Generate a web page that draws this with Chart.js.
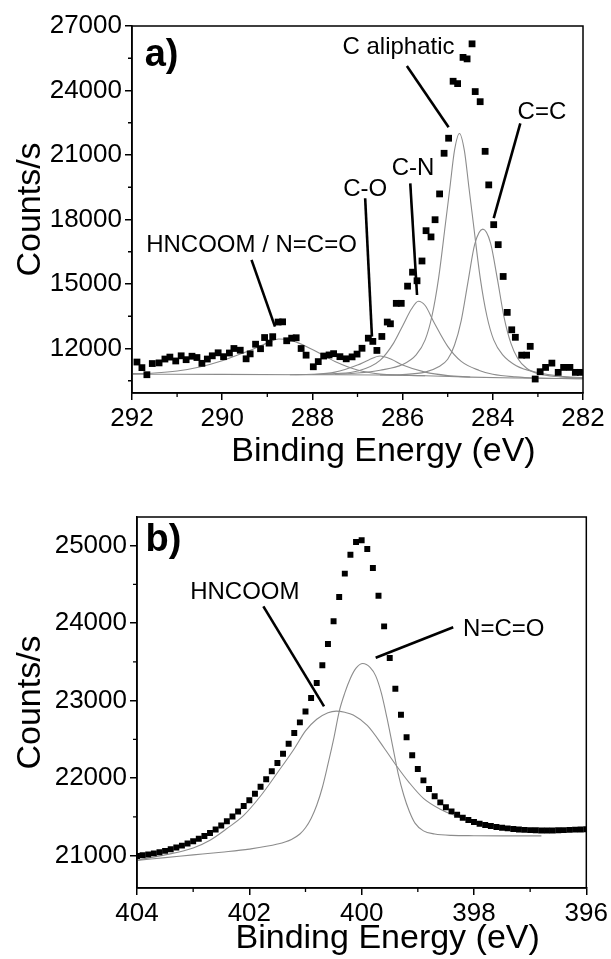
<!DOCTYPE html>
<html><head><meta charset="utf-8">
<script src="https://cdn.jsdelivr.net/npm/chart.js@4.4.0/dist/chart.umd.min.js"></script>
<style>
html,body{margin:0;padding:0;background:#fff;width:611px;height:959px;overflow:hidden}
canvas{position:absolute;left:0}
#ca{top:0}
#cb{top:478px}
</style></head><body>
<canvas id="ca" width="611" height="478"></canvas>
<canvas id="cb" width="611" height="481"></canvas>
<script>
const FONT = "'Liberation Sans', Arial, Helvetica, sans-serif";

// ---------- Panel a: C 1s ----------
const energyA = [291.89,291.78,291.67,291.55,291.40,291.27,291.16,291.03,290.91,290.80,290.67,290.56,290.45,290.33,290.22,290.09,289.97,289.84,289.74,289.60,289.47,289.38,289.26,289.15,289.06,288.96,288.88,288.76,288.66,288.57,288.46,288.36,288.25,288.14,287.98,287.87,287.75,287.63,287.53,287.39,287.25,287.12,287.01,286.90,286.76,286.66,286.57,286.46,286.34,286.27,286.14,286.03,285.89,285.78,285.68,285.57,285.48,285.37,285.28,285.18,285.08,284.98,284.88,284.78,284.66,284.57,284.46,284.39,284.28,284.17,284.09,283.98,283.88,283.77,283.68,283.58,283.50,283.36,283.25,283.17,283.06,282.95,282.83,282.69,282.55,282.43,282.29,282.17,282.06];
const countsA = [11370,11110,10780,11300,11330,11510,11600,11420,11660,11480,11640,11580,11310,11510,11660,11800,11620,11790,12000,11920,11520,11750,12200,11990,12510,12250,12550,13230,13240,12360,12480,12500,12000,11690,11150,11390,11650,11700,11760,11620,11520,11610,11740,12010,12480,12330,11910,12560,13230,13150,14100,14100,14900,15550,15150,16070,17480,17190,17990,19190,21080,21780,24430,24320,25540,25470,26170,23950,23480,21170,19610,17760,16830,15350,13680,12870,12520,11690,11690,12100,10580,10920,11120,11320,10890,11120,11120,10890,10890];

const baselineA = [[292,10800],[290,10795],[288,10780],[286.5,10765],[285.5,10730],[284.5,10670],[283.5,10625],[282,10595]];
const fitHnA = [[292,10830],[291.5,10860],[291,10950],[290.5,11140],[290,11430],[289.5,11820],[289,12250],[288.75,12440],[288.5,12400],[288,11950],[287.5,11400],[287,11000],[286.5,10810],[286,10760],[285.5,10730]];
const fitCOA = [[288.5,10782],[288,10800],[287.5,10900],[287,11230],[286.75,11470],[286.5,11650],[286.25,11500],[286,11230],[285.5,10900],[285,10740],[284.5,10672]];
const fitCNA = [[288,10790],[287.5,10830],[287,10950],[286.5,11450],[286.2,12250],[286,13050],[285.8,13850],[285.65,14200],[285.5,14000],[285.3,13200],[285,12100],[284.7,11400],[284.3,10980],[284,10800],[283.5,10680],[283,10625],[282.5,10605],[282,10597]];
const fitCalA = [[287.5,10800],[287,10860],[286.5,10990],[286,11250],[285.7,11700],[285.5,12400],[285.35,13500],[285.2,15300],[285.05,17800],[284.95,19500],[284.85,21200],[284.74,22000],[284.63,21200],[284.53,19500],[284.43,17800],[284.28,15300],[284.13,13500],[283.98,12400],[283.78,11700],[283.48,11200],[283,10880],[282.5,10710],[282,10640]];
const fitCCA = [[286.5,10770],[286,10790],[285.5,10900],[285.2,11150],[285,11500],[284.85,12150],[284.7,13300],[284.55,15100],[284.4,16850],[284.22,17550],[284.05,16900],[283.9,15250],[283.75,13450],[283.6,12250],[283.45,11550],[283.25,11080],[283,10830],[282.5,10680],[282,10620]];

const xTicksA = [292,290,288,286,284,282];
const xMinorA = [291,289,287,285,283];
const yTicksA = [12000,15000,18000,21000,24000,27000];
const yMinorA = [10500,13500,16500,19500,22500,25500];

const labelsA = [
  {text:'C aliphatic', e:286.09, v:26020},
  {text:'C=C', e:282.91, v:23000},
  {text:'C-N', e:285.77, v:20400},
  {text:'C-O', e:286.83, v:19400},
  {text:'HNCOOM / N=C=O', e:289.35, v:16810}
];
const leadersA = [
  [[285.905,25140],[284.98,22290]],
  [[283.39,22475],[283.98,18060]],
  [[285.83,19680],[285.68,14490]],
  [[286.83,18990],[286.68,12550]],
  [[289.35,16120],[288.83,13015]]
];
const panelA = {text:'a)', e:291.72, v:25650};

// ---------- Panel b: N 1s ----------
const energyB = [404.0,403.9,403.8,403.7,403.6,403.5,403.4,403.3,403.2,403.1,403.0,402.9,402.8,402.7,402.6,402.5,402.4,402.3,402.2,402.1,402.0,401.9,401.8,401.7,401.6,401.5,401.4,401.3,401.2,401.1,401.0,400.9,400.8,400.7,400.6,400.5,400.4,400.3,400.2,400.1,400.0,399.9,399.8,399.7,399.6,399.5,399.4,399.3,399.2,399.1,399.0,398.9,398.8,398.7,398.6,398.5,398.4,398.3,398.2,398.1,398.0,397.9,397.8,397.7,397.6,397.5,397.4,397.3,397.2,397.1,397.0,396.9,396.8,396.7,396.6,396.5,396.4,396.3,396.2,396.1,396.0];
const countsB = [20995,21005,21015,21030,21045,21062,21082,21105,21130,21158,21187,21218,21253,21292,21338,21390,21445,21505,21570,21640,21715,21800,21890,21985,22090,22195,22315,22445,22583,22720,22860,23034,23228,23456,23731,24024,24338,24639,24884,25047,25069,24957,24712,24355,23959,23551,23155,22819,22527,22295,22118,21972,21860,21766,21688,21624,21572,21529,21490,21460,21434,21413,21396,21383,21370,21361,21352,21345,21338,21333,21330,21327,21325,21325,21326,21328,21330,21333,21336,21339,21342];

const fitHnB = [[404,20940],[403.5,21010],[403,21100],[402.7,21200],[402.4,21350],[402.1,21520],[401.8,21770],[401.5,22070],[401.2,22380],[401,22610],[400.8,22760],[400.6,22845],[400.45,22865],[400.3,22850],[400.15,22815],[399.9,22680],[399.6,22390],[399.4,22180],[399.15,21940],[398.9,21740],[398.6,21600],[398.3,21510],[398,21435],[397.5,21375],[397,21340],[396.8,21330]];
const fitNcoB = [[404,20940],[403.5,20975],[403,21010],[402.5,21045],[402,21085],[401.5,21150],[401.25,21210],[401.1,21280],[401,21360],[400.9,21480],[400.8,21650],[400.7,21880],[400.6,22180],[400.5,22500],[400.4,22860],[400.3,23100],[400.2,23290],[400.1,23420],[399.98,23480],[399.85,23430],[399.75,23320],[399.65,23100],[399.55,22780],[399.45,22420],[399.35,22060],[399.25,21780],[399.15,21570],[399.05,21420],[398.9,21320],[398.7,21280],[398.4,21262],[398,21258],[397.5,21256],[396.8,21256]];

const xTicksB = [404,402,400,398,396];
const xMinorB = [403,401,399,397];
const yTicksB = [21000,22000,23000,24000,25000];
const yMinorB = [21500,22500,23500,24500];

const labelsB = [
  {text:'HNCOOM', e:402.08, v:24394},
  {text:'N=C=O', e:397.47, v:23916}
];
const leadersB = [
  [[401.75,24217],[400.67,22926]],
  [[398.37,23948],[399.75,23555]]
];
const panelB = {text:'b)', e:403.85, v:25065};

// ---------- helpers ----------
const X_TITLE_SHIFT = 26;
const toXY = arr => arr.map(p => ({x:p[0], y:p[1]}));
const zipXY = (xs, ys) => xs.map((x,i) => ({x, y:ys[i]}));

const framePlugin = {
  id:'frame',
  afterDatasetsDraw(chart, args, o){
    const {ctx, chartArea:{left,right,top,bottom}, scales:{x,y}} = chart;
    ctx.save();
    ctx.strokeStyle = '#000';
    ctx.lineWidth = 1.5;
    ctx.strokeRect(left, top, right-left, bottom-top);
    ctx.lineWidth = 1.3;
    ctx.beginPath();
    for (const v of o.xMinor){ const px = x.getPixelForValue(v); ctx.moveTo(px,bottom); ctx.lineTo(px,bottom+4); }
    for (const v of o.yMinor){ const py = y.getPixelForValue(v); ctx.moveTo(left,py); ctx.lineTo(left-4,py); }
    ctx.stroke();
    ctx.fillStyle = '#000';
    ctx.textBaseline = 'middle';
    ctx.textAlign = 'center';
    ctx.font = '24px ' + FONT;
    for (const l of o.labels){ ctx.fillText(l.text, x.getPixelForValue(l.e), y.getPixelForValue(l.v)); }
    ctx.textAlign = 'left';
    ctx.font = 'bold 38px ' + FONT;
    ctx.fillText(o.panel.text, x.getPixelForValue(o.panel.e), y.getPixelForValue(o.panel.v));
    ctx.restore();
  }
};

function makeChart(id, cfg){
  const curve = arr => ({data: toXY(arr), showLine:true, borderColor:'#8c8c8c', borderWidth:1.1, pointRadius:0, cubicInterpolationMode:'monotone', fill:false, order:3});
  const leader = seg => ({data: toXY(seg), showLine:true, borderColor:'#000', borderWidth:2.6, pointRadius:0, order:0});
  const datasets = [
    {data: zipXY(cfg.energy, cfg.counts), pointStyle:'rect', pointRadius:cfg.ptR, backgroundColor:'#000', borderWidth:0, showLine:false, order:1},
    ...cfg.leaders.map(leader),
    ...cfg.curves.map(curve)
  ];
  return new Chart(document.getElementById(id), {
    type:'scatter',
    data:{datasets},
    options:{
      responsive:false, animation:false, events:[], devicePixelRatio:1,
      layout:{padding:{top:cfg.padTop, right:cfg.padRight, left:0, bottom:0}},
      plugins:{legend:{display:false}, tooltip:{enabled:false},
        frame:{xMinor:cfg.xMinor, yMinor:cfg.yMinor, labels:cfg.labels, panel:cfg.panel}},
      scales:{
        x:{type:'linear', reverse:true, min:cfg.xMin, max:cfg.xMax,
          afterBuildTicks: s => { s.ticks = cfg.xTicks.map(v => ({value:v})); },
          afterFit: s => {
            s.height = cfg.xH;
            if (!s.$shifted) {
              const orig = s.drawTitle;
              s.drawTitle = function(){ const c = this.ctx; c.save(); c.translate(X_TITLE_SHIFT, 0); orig.call(this); c.restore(); };
              s.$shifted = true;
            }
          },
          grid:{display:true, drawOnChartArea:false, drawTicks:true, tickLength:7, color:'#000', lineWidth:1.5},
          border:{display:true, color:'#000', width:1.5},
          ticks:{color:'#000', font:{family:FONT, size:26}, padding:3, maxRotation:0, autoSkip:false, callback:v => String(v)},
          title:{display:true, text:'Binding Energy (eV)', color:'#000', font:{family:FONT, size:34}, padding:{top:0, bottom:cfg.xTitlePad}}
        },
        y:{type:'linear', min:cfg.yMin, max:cfg.yMax,
          afterBuildTicks: s => { s.ticks = cfg.yTicks.map(v => ({value:v})); },
          afterFit: s => { s.width = cfg.yW; },
          grid:{display:true, drawOnChartArea:false, drawTicks:true, tickLength:7, color:'#000', lineWidth:1.5},
          border:{display:true, color:'#000', width:1.5},
          ticks:{color:'#000', font:{family:FONT, size:26}, padding:3, callback:v => String(v)},
          title:{display:true, text:'Counts/s', color:'#000', font:{family:FONT, size:34}, padding:{top:10, bottom:0}}
        }
      }
    },
    plugins:[framePlugin]
  });
}

makeChart('ca', {
  energy:energyA, counts:countsA, ptR:4.8,
  curves:[baselineA, fitHnA, fitCOA, fitCNA, fitCalA, fitCCA],
  leaders:leadersA, labels:labelsA, panel:panelA,
  xMin:282, xMax:292, yMin:9930, yMax:27000,
  xTicks:xTicksA, yTicks:yTicksA, xMinor:xMinorA, yMinor:yMinorA,
  padTop:26, padRight:28, xH:478-393, yW:132, xTitlePad:6
});
makeChart('cb', {
  energy:energyB, counts:countsB, ptR:4.2,
  curves:[fitHnB, fitNcoB],
  leaders:leadersB, labels:labelsB, panel:panelB,
  xMin:396, xMax:404, yMin:20583, yMax:25370,
  xTicks:xTicksB, yTicks:yTicksB, xMinor:xMinorB, yMinor:yMinorB,
  padTop:39, padRight:22, xH:481-410, yW:137, xTitlePad:0
});
</script>
</body></html>
